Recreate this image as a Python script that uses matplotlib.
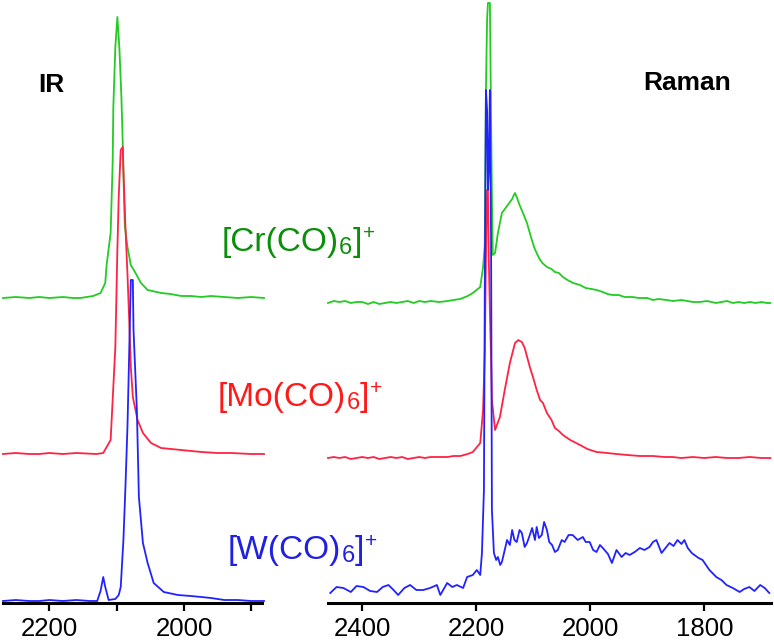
import matplotlib
matplotlib.use("Agg")
import matplotlib.pyplot as plt
import numpy as np

plt.rcParams['font.family'] = ['Liberation Sans', 'DejaVu Sans']

# ---------------- IR data (wavenumber, intensity above own baseline) ----------
ir_cr_wn = [2269, 2250, 2230, 2215, 2200, 2180, 2165, 2154, 2135, 2124, 2117, 2115, 2109, 2106,
            2105, 2102, 2099, 2096, 2093, 2091, 2090, 2088, 2084, 2079, 2072, 2064, 2054, 2034,
            2020, 2004, 1990, 1974, 1960, 1940, 1920, 1900, 1881]
ir_cr_int = [0, 1, 0, 1, 0, 1, 0, 0, 2, 5, 15, 33, 65, 135,
             191, 251, 281, 250, 201, 155, 125, 73, 51, 33, 25, 15, 8, 5,
             4, 2, 2, 1, 2, 1, 0, 1, 0]

ir_mo_wn = [2269, 2250, 2230, 2215, 2200, 2180, 2160, 2130, 2120, 2109, 2106, 2102, 2099, 2097,
            2094, 2091, 2090, 2087, 2084, 2081, 2079, 2076, 2069, 2061, 2049, 2034, 2004, 1974,
            1950, 1930, 1900, 1881]
ir_mo_int = [0, 1, 0, 0, 1, 0, 1, 0, 1, 14, 54, 107, 204, 257,
             304, 307, 284, 227, 180, 127, 87, 57, 34, 21, 11, 6, 4, 2,
             1, 1, 0, 0]

ir_w_wn = [2269, 2250, 2230, 2215, 2200, 2180, 2160, 2140, 2129, 2124, 2120, 2117, 2112, 2102,
           2097, 2094, 2090, 2087, 2084, 2082, 2079, 2076, 2075, 2070, 2067, 2061, 2054, 2045,
           2030, 2009, 1990, 1974, 1960, 1940, 1920, 1900, 1881]
ir_w_int = [0, 1, 0, 0, 1, 0, 1, 0, 0, 10, 24, 14, 1, 2,
            6, 14, 61, 114, 174, 231, 321, 321, 271, 191, 104, 58, 38, 18,
            9, 6, 5, 4, 3, 1, 1, 0, 0]

# ---------------- Raman data ---------------------------------------------------
ra_cr_wn = [2460, 2450, 2440, 2430, 2420, 2410, 2400, 2390, 2380, 2370, 2360, 2350, 2340, 2330,
            2320, 2310, 2300, 2290, 2280, 2265, 2250, 2240, 2228, 2215, 2206, 2193, 2188, 2185,
            2183, 2181, 2179.5, 2178, 2176, 2174, 2172.5, 2171, 2167, 2162, 2155, 2146, 2137,
            2134, 2132, 2129, 2124, 2118, 2111, 2104, 2098, 2094, 2089, 2084, 2076, 2068, 2062,
            2055, 2048, 2040, 2030, 2018, 2008, 1998, 1989, 1978, 1970, 1961, 1950, 1940, 1926,
            1915, 1900, 1890, 1880, 1866, 1855, 1840, 1830, 1820, 1808, 1795, 1780, 1770, 1760,
            1750, 1740, 1730, 1720, 1710, 1700, 1690, 1684]
ra_cr_int = [0, 2, 1, 2, 0, 1, 1, -1, 1, -1, 0, 1, 0, 1,
             2, 0, 2, 1, 2, 1, 2, 3, 4, 7, 10, 16, 36, 58,
             213, 283, 300, 300, 300, 183, 106, 48, 50, 70, 90, 97, 104,
             108, 110, 106, 98, 90, 80, 66, 55, 50, 44, 40, 36, 34, 31,
             30, 26, 23, 20, 18, 15, 14, 13, 11, 9, 8, 8, 6, 6,
             5, 5, 3, 4, 3, 2, 3, 2, 1, 1, 2, 0, 1, 2,
             0, 1, 0, 1, 0, 1, 0, 0]

ra_mo_wn = [2460, 2450, 2440, 2430, 2420, 2410, 2400, 2390, 2380, 2370, 2360, 2350, 2340, 2330,
            2320, 2310, 2300, 2290, 2280, 2265, 2250, 2240, 2228, 2215, 2206, 2193, 2188, 2185,
            2183, 2181, 2179.5, 2178, 2176, 2174, 2172.5, 2167, 2158.5, 2150, 2141, 2132, 2126,
            2123.5, 2120, 2115, 2106, 2100, 2094, 2088, 2083, 2076, 2068, 2062, 2055, 2048, 2035,
            2018, 2005, 1989, 1970, 1954, 1935, 1913, 1890, 1870, 1856, 1840, 1820, 1800, 1780,
            1760, 1740, 1720, 1700, 1684]
ra_mo_int = [0, 1, 0, 1, -1, 0, 1, 0, 1, -1, 0, 1, 0, 1,
             -1, 0, 1, 0, 1, 1, 1, 2, 2, 4, 6, 15, 48, 105,
             200, 268, 268, 200, 145, 100, 58, 28, 41, 68, 95, 115, 118,
             117, 116, 110, 91, 80, 68, 58, 55, 45, 38, 30, 27, 23, 18,
             13, 9, 6, 5, 4, 3, 2, 2, 1, 1, 0, 1, 0, 1,
             0, 0, 1, 0, 0]

ra_w_wn = [2456, 2445, 2433, 2420, 2410, 2398, 2386, 2374, 2364, 2354, 2345, 2337, 2326, 2316,
           2305, 2293, 2281, 2269, 2263, 2251, 2242, 2234, 2223, 2216, 2206, 2199, 2193, 2190,
           2186.5, 2185, 2183, 2181, 2179.5, 2178, 2176, 2174, 2172.5, 2169, 2165, 2162, 2158,
           2155, 2150, 2146, 2141, 2137, 2133, 2129, 2124, 2120, 2115, 2111, 2106, 2102, 2097,
           2094, 2090, 2085, 2081, 2076, 2072, 2067, 2062, 2057, 2050, 2045, 2038, 2031, 2022,
           2013, 2008, 2001, 1995, 1989, 1983, 1978, 1969, 1962, 1954, 1945, 1938, 1931, 1922,
           1913, 1905, 1896, 1890, 1884, 1875, 1868, 1861, 1854, 1847, 1840, 1835, 1829, 1822,
           1810, 1803, 1791, 1779, 1770, 1761, 1750, 1738, 1730, 1721, 1712, 1702, 1694, 1686]
ra_w_int = [-3, 3, 2, -2, 4, 3, -1, -2, 3, 5, 0, -5, 2, 5,
            0, 0, 2, 5, -5, 7, 3, 5, 2, 13, 15, 20, 15, 37,
            100, 300, 500, 480, 400, 420, 500, 350, 80, 37, 30, 33, 25,
            28, 40, 50, 45, 60, 50, 48, 60, 57, 43, 47, 55, 62, 50,
            63, 52, 55, 68, 60, 48, 45, 38, 40, 50, 48, 55, 55, 50,
            53, 48, 48, 40, 38, 45, 42, 36, 27, 40, 33, 37, 35, 38,
            42, 40, 43, 48, 50, 37, 42, 47, 44, 50, 46, 50, 42, 37,
            32, 30, 20, 13, 10, 5, 2, -2, 1, 3, -1, 5, 2, -3]

# vertical offsets of each trace (stacking)
ir_offsets = {'cr': 305, 'mo': 149, 'w': 2}
ra_offsets = {'cr': 300, 'mo': 145, 'w': 13}

# labels: (main text, subscript, closing, superscript)
labels = [('[Cr(CO)', '6', ']', '+'),
          ('[Mo(CO)', '6', ']', '+'),
          ('[W(CO)', '6', ']', '+')]

line_green = '#22cc22'
line_red = '#ff2244'
line_blue = '#2222ff'
lab_green = '#0a8f0a'
lab_red = '#ff1a1a'
lab_blue = '#2020e0'

W, H = 774, 642
fig = plt.figure(figsize=(W / 100, H / 100), dpi=100)

ax_y0 = (H - 603) / H
ax_h = 603 / H
ax_ir = fig.add_axes([3 / W, ax_y0, 259 / W, ax_h])
ax_ra = fig.add_axes([328 / W, ax_y0, 443 / W, ax_h])

lw = 1.3
for ax, series, offs in [
    (ax_ir, [(ir_cr_wn, ir_cr_int, 'cr', line_green), (ir_mo_wn, ir_mo_int, 'mo', line_red),
             (ir_w_wn, ir_w_int, 'w', line_blue)], ir_offsets),
    (ax_ra, [(ra_cr_wn, ra_cr_int, 'cr', line_green), (ra_mo_wn, ra_mo_int, 'mo', line_red),
             (ra_w_wn, ra_w_int, 'w', line_blue)], ra_offsets),
]:
    for wn, inten, key, col in series:
        ax.plot(wn, np.asarray(inten) + offs[key], color=col, lw=lw, clip_on=False)
    ax.set_ylim(0, 603)
    for s in ['top', 'left', 'right']:
        ax.spines[s].set_visible(False)
    ax.spines['bottom'].set_linewidth(2.2)
    ax.set_yticks([])
    ax.tick_params(axis='x', which='both', direction='out', length=6, width=1.6,
                   labelsize=18.5, pad=4)
    ax.patch.set_alpha(0)

ax_ir.set_xlim(2269, 1884)
ax_ir.set_xticks([2200, 2000])
ax_ir.set_xticks([2100, 1900], minor=True)
ax_ir.tick_params(axis='x', which='minor', length=6, width=1.6)

ax_ra.set_xlim(2460, 1683)
ax_ra.set_xticks([2400, 2200, 2000, 1800])

fig.text(51 / W, 1 - 85 / H, 'IR', fontsize=19, fontweight='bold', ha='center', va='center')
fig.text(687 / W, 1 - 83 / H, 'Raman', fontsize=19, fontweight='bold', ha='center', va='center')

renderer = fig.canvas.get_renderer()


def rich_label(x_px, base_px, parts, color):
    main, sub, close, sup = parts
    pieces = [(main, 24, 0, 0), (sub, 17, -3, 0), (close, 24, 0, 0), (sup, 15, 12, 1)]
    x = x_px
    for s, size, dy, dx in pieces:
        t = fig.text((x + dx) / W, 1 - (base_px - dy) / H, s, fontsize=size, color=color,
                     ha='left', va='baseline')
        bb = t.get_window_extent(renderer=renderer)
        x = bb.x1 + dx


rich_label(222, 251, labels[0], lab_green)
rich_label(218, 406, labels[1], lab_red)
rich_label(228, 559, labels[2], lab_blue)

fig.savefig('out.png', dpi=100)
